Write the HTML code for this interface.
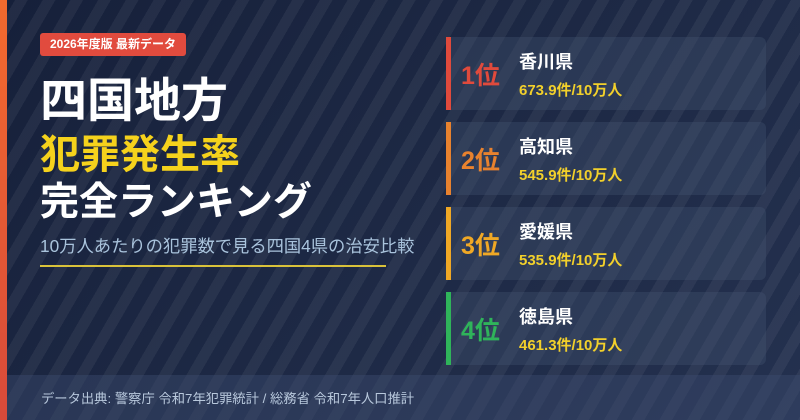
<!DOCTYPE html>
<html><head><meta charset="utf-8"><style>
*{margin:0;padding:0;box-sizing:border-box}
body{width:800px;height:420px;overflow:hidden;font-family:"Liberation Sans","Noto Sans CJK JP",sans-serif;}
#c{position:relative;width:800px;height:420px;background:#1b2743;
background-image:repeating-linear-gradient(120deg,rgba(255,255,255,0) 0 13px,rgba(255,255,255,0.055) 13px 24px),linear-gradient(135deg,#16203a,#24314f);}
.bar{position:absolute;left:0;top:0;width:7px;height:420px;background:linear-gradient(#f26a2e,#d84a3a)}
.badge{position:absolute;left:40px;top:33px;width:146px;height:23px;background:#e14b3e;border-radius:3px;color:#fff;font-size:12px;font-weight:bold;line-height:23px;text-align:center}
.t{position:absolute;left:40px;font-weight:bold;white-space:nowrap;line-height:1.2}
.sub{position:absolute;left:40px;top:232px;color:#a9c3dc;font-size:17.3px;white-space:nowrap}
.ul{position:absolute;left:40px;top:265px;width:346px;height:2px;background:#d9c23a}
.card{position:absolute;left:446px;width:320px;height:73px;background:rgba(70,85,115,0.35);border-radius:0 6px 6px 0}
.card .s{position:absolute;left:0;top:0;width:5px;height:73px}
.card .r{position:absolute;left:15px;top:19px;font-size:25px;font-weight:bold}
.card .n{position:absolute;left:73px;top:11px;color:#fff;font-size:18px;font-weight:bold}
.card .v{position:absolute;left:73px;top:42px;color:#f2d02b;font-size:15px;font-weight:bold}
.foot{position:absolute;left:7px;top:375px;width:793px;height:45px;background:rgba(60,75,110,0.45)}
.foot span{position:absolute;left:34px;top:13px;color:#b8c8dc;font-size:13.3px;white-space:nowrap}
</style></head><body><div id="c">
<div class="foot"><span>データ出典: 警察庁 令和7年犯罪統計 / 総務省 令和7年人口推計</span></div>
<div class="bar"></div>
<div class="badge">2026年度版 最新データ</div>
<div class="t" style="top:73px;font-size:47px;color:#fff">四国地方</div>
<div class="t" style="top:131px;font-size:40px;color:#f5d21c">犯罪発生率</div>
<div class="t" style="top:180px;font-size:39px;color:#fff">完全ランキング</div>
<div class="sub">10万人あたりの犯罪数で見る四国4県の治安比較</div>
<div class="ul"></div>
<div class="card" style="top:37px"><div class="s" style="background:#e04a3c"></div><div class="r" style="color:#e04a3c">1位</div><div class="n">香川県</div><div class="v">673.9件/10万人</div></div>
<div class="card" style="top:122px"><div class="s" style="background:#e8822e"></div><div class="r" style="color:#e8822e">2位</div><div class="n">高知県</div><div class="v">545.9件/10万人</div></div>
<div class="card" style="top:207px"><div class="s" style="background:#f0a825"></div><div class="r" style="color:#f0a825">3位</div><div class="n">愛媛県</div><div class="v">535.9件/10万人</div></div>
<div class="card" style="top:292px"><div class="s" style="background:#2fb45a"></div><div class="r" style="color:#2fb45a">4位</div><div class="n">徳島県</div><div class="v">461.3件/10万人</div></div>
</div></body></html>
